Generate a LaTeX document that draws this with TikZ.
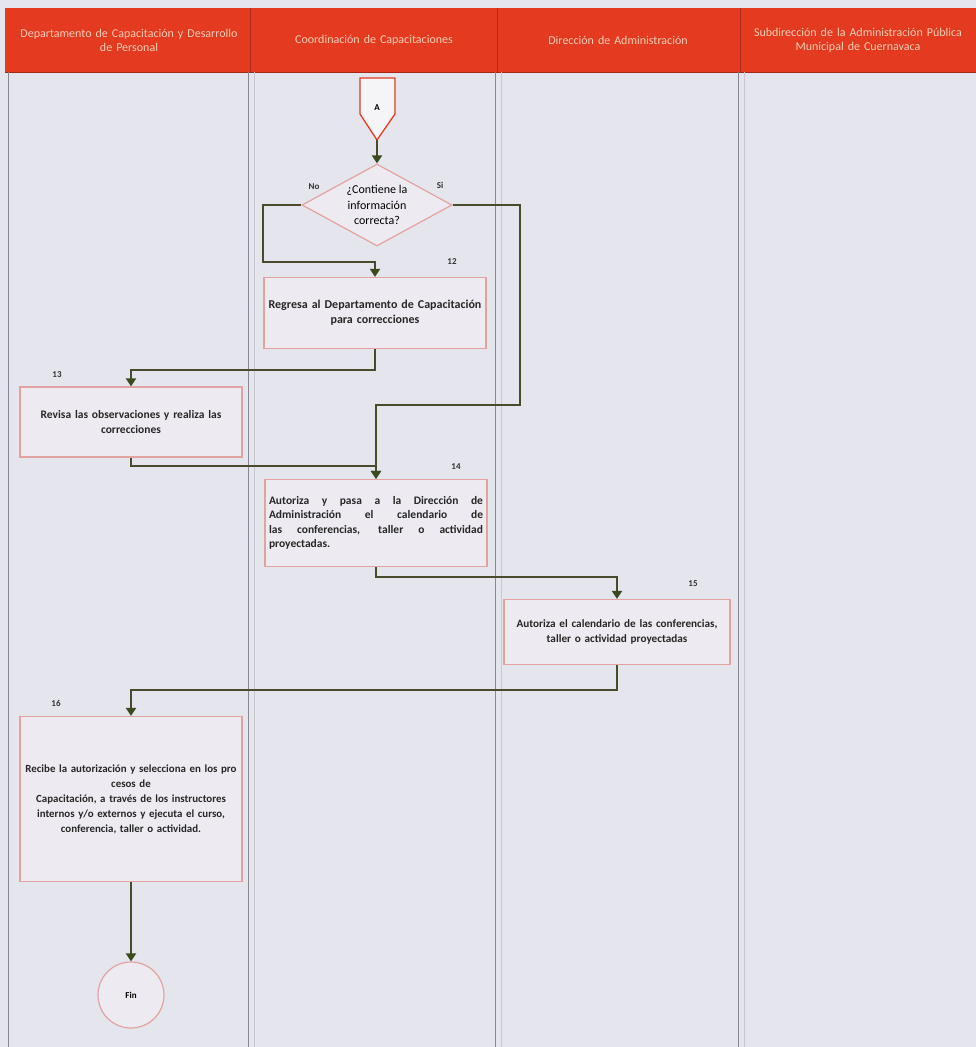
\documentclass[tikz,border=0pt]{standalone}
\usepackage{fontspec}
\setmainfont{Carlito}
\usetikzlibrary{arrows.meta,shapes.geometric}
\definecolor{bgc}{HTML}{E5E5EE}
\definecolor{headred}{HTML}{E43A1F}
\definecolor{headtxt}{HTML}{F9CDB8}
\definecolor{laneline}{HTML}{8A8790}
\definecolor{lanelight}{HTML}{C9C7CF}
\definecolor{boxfill}{HTML}{EDEBF1}
\definecolor{boxline}{HTML}{E2A3A0}
\definecolor{flowc}{HTML}{4A4A2C}
\definecolor{tipc}{HTML}{3A4A1E}
\tikzset{
  procbox/.style={draw=boxline, fill=boxfill, line width=1.2pt, rectangle, inner sep=3pt, text=black!85},
  flow/.style={draw=flowc, line width=1.8pt, -{Triangle[length=8pt,width=10pt,color=tipc]}},
  steplbl/.style={font=\bfseries\fontsize{9}{10}\selectfont, text=black!80},
  headlbl/.style={font=\fontsize{12}{14}\selectfont, text=headtxt, align=center, text width=240pt},
  branchlbl/.style={font=\bfseries\fontsize{9}{10}\selectfont, text=black!80}
}
\begin{document}
\begin{tikzpicture}[x=1pt,y=-1pt]
\useasboundingbox (0,0) rectangle (976,1047);
\fill[bgc] (0,0) rectangle (976,1047);
% header
\fill[headred] (5,8) rectangle (976,72);
\draw[headred!70!black, line width=1pt] (5,72) -- (976,72);
\foreach \x in {250,497,740} \draw[headred!75!black, line width=0.8pt] (\x,8) -- (\x,72);
\node[headlbl] (h1) at (129,40) {Departamento de Capacitación y Desarrollo\\de Personal};
\node[headlbl] (h2) at (374,40) {Coordinación de Capacitaciones};
\node[headlbl] (h3) at (618,40) {Dirección de Administración};
\node[headlbl] (h4) at (858,40) {Subdirección de la Administración Pública\\Municipal de Cuernavaca};
% lanes
\draw[laneline, line width=1pt] (8,72) -- (8,1047);
\foreach \x in {248,495,738} {
  \draw[laneline, line width=1pt] (\x,72) -- (\x,1047);
  \draw[lanelight, line width=1pt] (\x+6,72) -- (\x+6,1047);
}
% off-page connector A
\draw[draw=headred, fill=white!60!bgc, line width=1.3pt] (360,78) -- (395,78) -- (395,114) -- (377,140) -- (360,114) -- cycle;
\node[font=\bfseries\fontsize{9}{10}\selectfont] (conA) at (377,108) {A};
\coordinate (Atip) at (377,140);
% decision
\node[draw=boxline, fill=boxfill, line width=1.2pt, diamond, aspect=1.875, minimum width=150pt, minimum height=82pt, inner sep=0pt, align=center, font=\fontsize{12}{15.5}\selectfont] (dec) at (377,205) {¿Contiene la\\información\\correcta?};
\node[branchlbl] (no) at (314,187) {No};
\node[branchlbl] (si) at (440,185) {Si};
% boxes
\node[procbox, minimum width=220pt, minimum height=71pt, text width=216pt, align=center, font=\bfseries\fontsize{12}{15}\selectfont] (b12) at (375,313) {Regresa al Departamento de Capacitación\\para correcciones};
\node[steplbl] (l12) at (452,262) {12};
\node[procbox, minimum width=220pt, minimum height=70pt, text width=216pt, align=center, font=\bfseries\fontsize{11.5}{15}\selectfont] (b13) at (131,422) {Revisa las observaciones y realiza las\\correcciones};
\node[steplbl] (l13) at (57,375) {13};
\node[procbox, minimum width=222pt, minimum height=87pt, text width=214pt, align=justify, font=\bfseries\fontsize{11.5}{14.5}\selectfont] (b14) at (376,523) {Autoriza y pasa a la Dirección de\linebreak Administración el calendario de\linebreak las conferencias, taller o actividad\linebreak proyectadas.};
\node[steplbl] (l14) at (456,467) {14};
\node[procbox, minimum width=225pt, minimum height=65pt, text width=220pt, align=center, font=\bfseries\fontsize{11.2}{15}\selectfont] (b15) at (617,632) {Autoriza el calendario de las conferencias,\\taller o actividad proyectadas};
\node[steplbl] (l15) at (693,584) {15};
\node[procbox, minimum width=220pt, minimum height=165pt, text width=216pt, align=center, font=\bfseries\fontsize{10.9}{15}\selectfont] (b16) at (131,799) {Recibe la autorización y selecciona en los pro\\cesos de\\Capacitación, a través de los instructores\\internos y/o externos y ejecuta el curso,\\conferencia, taller o actividad.};
\node[steplbl] (l16) at (56,703) {16};
\node[draw=boxline, fill=boxfill, line width=1.2pt, circle, minimum size=66pt, inner sep=0pt, font=\bfseries\fontsize{9}{10}\selectfont] (fin) at (131,995) {Fin};
% connectors
\draw[flow] (Atip) -- (dec.north);
\draw[flow] (dec.west) -- (263,205) -- (263,262) -| (b12.north);
\draw[flow] (dec.east) -- (520,205) -- (520,405) -| (b14.north);
\draw[flow] (b12.south) -- (375,370) -| (b13.north);
\draw[flow] (b13.south) -- (131,466) -| (b14.north);
\draw[flow] (b14.south) -- (376,577) -| (b15.north);
\draw[flow] (b15.south) -- (617,690) -| (b16.north);
\draw[flow] (b16.south) -- (fin.north);
\end{tikzpicture}
\end{document}
